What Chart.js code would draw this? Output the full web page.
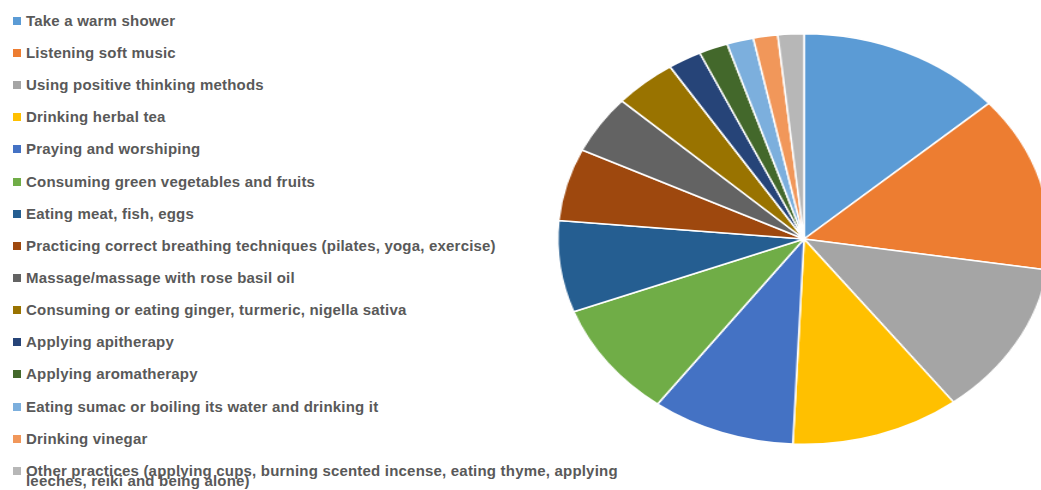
<!DOCTYPE html>
<html>
<head>
<meta charset="utf-8">
<script src="https://cdn.jsdelivr.net/npm/chart.js@4"></script>
<style>
    html, body { margin: 0; padding: 0; background: #ffffff; }
    body { width: 1041px; height: 490px; overflow: hidden; position: relative; font-family: "Liberation Sans", Arial, sans-serif; }
    #legend { position: absolute; left: 0; top: 0; width: 650px; height: 490px; }
    .item { position: absolute; left: 0; width: 650px; }
    .box { position: absolute; left: 13px; top: 1px; width: 8px; height: 8px; }
    .txt { position: absolute; left: 26px; width: 610px; font-size: 15px; font-weight: bold; letter-spacing: 0.2px; color: #595959; line-height: 10.5px; white-space: normal; }
    #pieWrap { position: absolute; left: 596px; top: 31px; width: 416px; height: 416px; transform: scaleX(1.2); transform-origin: 50% 50%; }
</style>
</head>
<body>
<div id="legend"></div>
<div id="pieWrap"><canvas id="pieChart" width="416" height="416"></canvas></div>
<script>
// Categories (legend order = slice order, clockwise from 12 o'clock)
const labels = [
    'Take a warm shower',
    'Listening soft music',
    'Using positive thinking methods',
    'Drinking herbal tea',
    'Praying and worshiping',
    'Consuming green vegetables and fruits',
    'Eating meat, fish, eggs',
    'Practicing correct breathing techniques (pilates, yoga, exercise)',
    'Massage/massage with rose basil oil',
    'Consuming or eating ginger, turmeric, nigella sativa',
    'Applying apitherapy',
    'Applying aromatherapy',
    'Eating sumac or boiling its water and drinking it',
    'Drinking vinegar',
    'Other practices (applying cups, burning scented incense, eating thyme, applying leeches, reiki and being alone)'
];

// Share of each practice (%)
const values = [13.5, 13.9, 12.2, 11.1, 9.4, 9.1, 7.2, 5.7, 4.6, 4.1, 2.2, 1.9, 1.75, 1.6, 1.7];

const colors = [
    '#5B9BD5', '#ED7D31', '#A5A5A5', '#FFC000', '#4472C4',
    '#70AD47', '#255E91', '#9E480E', '#636363', '#997300',
    '#264478', '#43682B', '#7CAFDD', '#F1975A', '#B7B7B7'
];

// Builds the left-hand legend from the chart's own legend items
const htmlLegend = {
    id: 'htmlLegend',
    afterUpdate(chart) {
        const box = document.getElementById('legend');
        box.innerHTML = '';
        const items = chart.options.plugins.legend.labels.generateLabels(chart);
        items.forEach((it, i) => {
            const row = document.createElement('div');
            row.className = 'item';
            row.style.top = (21 + i * 32.15 - 5.25) + 'px';
            const sw = document.createElement('span');
            sw.className = 'box';
            sw.style.background = it.fillStyle;
            const t = document.createElement('span');
            t.className = 'txt';
            t.textContent = it.text;
            row.appendChild(sw);
            row.appendChild(t);
            box.appendChild(row);
        });
    }
};

document.addEventListener('DOMContentLoaded', function() {
    const ctx = document.getElementById('pieChart').getContext('2d');
    window.pieChart = new Chart(ctx, {
        type: 'pie',
        data: {
            labels: labels,
            datasets: [{
                data: values,
                backgroundColor: colors,
                borderColor: '#ffffff',
                borderWidth: 1.5
            }]
        },
        options: {
            responsive: false,
            animation: false,
            layout: { padding: 2 },
            plugins: {
                legend: { display: false },
                tooltip: { enabled: false }
            }
        },
        plugins: [htmlLegend]
    });
});
</script>
</body>
</html>
